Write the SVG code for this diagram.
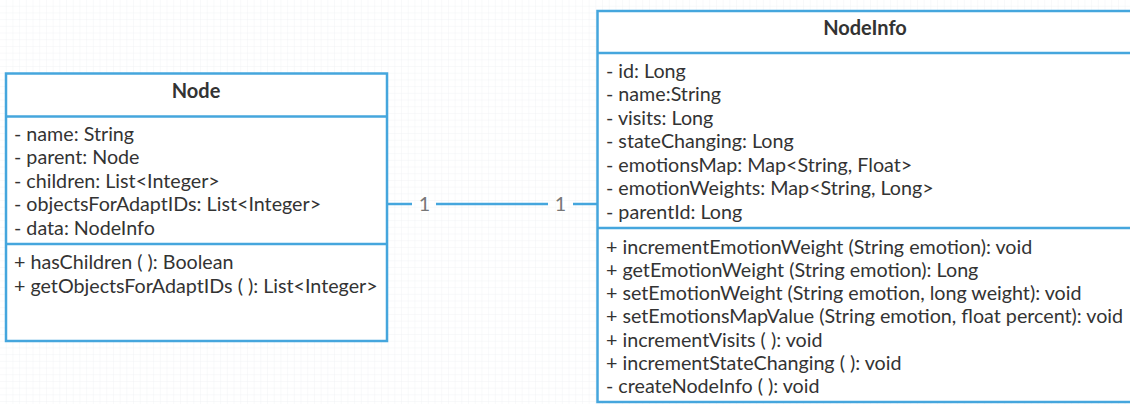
<svg xmlns="http://www.w3.org/2000/svg" width="1130" height="404" viewBox="0 0 1130 404">
  <defs>
    <pattern id="grid" width="6.7" height="6.7" patternUnits="userSpaceOnUse">
      <path d="M6.7 0 V6.7 M0 6.7 H6.7" fill="none" stroke="#eceff3" stroke-width="0.7"/>
    </pattern>
    <style>
      .box { fill: #ffffff; stroke: #45a6dd; stroke-width: 2.5; }
      .div { stroke: #45a6dd; stroke-width: 2.5; }
      .title { font-family: Lato, "Liberation Sans", sans-serif; font-size: 20px; font-weight: bold; fill: #333333; text-anchor: middle; }
      .t { font-family: Lato, "Liberation Sans", sans-serif; font-size: 19.7px; fill: #333333; }
      .conn { stroke: #45a6dd; stroke-width: 2.5; fill: none; }
      .mult { font-family: Lato, "Liberation Sans", sans-serif; font-size: 19.7px; fill: #777777; text-anchor: middle; }
    </style>
  </defs>
  <rect width="1130" height="404" fill="#ffffff"/>
  <rect width="1130" height="404" fill="url(#grid)"/>

  <g id="connectors">
    <line class="conn" x1="387" y1="204" x2="412" y2="204"/>
    <line class="conn" x1="436" y1="204" x2="548" y2="204"/>
    <line class="conn" x1="573" y1="204" x2="597" y2="204"/>
    <text class="mult" x="424.5" y="211">1</text>
    <text class="mult" x="560.5" y="211">1</text>
  </g>

  <g id="node-Node">
    <rect class="box" x="6" y="73.5" width="381" height="267.5"/>
    <line class="div" x1="6" y1="116.5" x2="387" y2="116.5"/>
    <line class="div" x1="6" y1="244" x2="387" y2="244"/>
    <text class="title" x="196" y="98">Node</text>
    <text class="t" x="14" y="140.5">- name: String</text>
    <text class="t" x="14" y="164">- parent: Node</text>
    <text class="t" x="14" y="187.5">- children: List&lt;Integer&gt;</text>
    <text class="t" x="14" y="211">- objectsForAdaptIDs: List&lt;Integer&gt;</text>
    <text class="t" x="14" y="234.5">- data: NodeInfo</text>
    <text class="t" x="14" y="269">+ hasChildren ( ): Boolean</text>
    <text class="t" x="14" y="292.5">+ getObjectsForAdaptIDs ( ): List&lt;Integer&gt;</text>
  </g>

  <g id="node-NodeInfo">
    <rect class="box" x="597.5" y="11" width="536" height="391"/>
    <line class="div" x1="597.5" y1="53" x2="1133.5" y2="53"/>
    <line class="div" x1="597.5" y1="228" x2="1133.5" y2="228"/>
    <text class="title" x="865" y="35">NodeInfo</text>
    <text class="t" x="606" y="77.5">- id: Long</text>
    <text class="t" x="606" y="101">- name:String</text>
    <text class="t" x="606" y="124.5">- visits: Long</text>
    <text class="t" x="606" y="148">- stateChanging: Long</text>
    <text class="t" x="606" y="171.5">- emotionsMap: Map&lt;String, Float&gt;</text>
    <text class="t" x="606" y="195">- emotionWeights: Map&lt;String, Long&gt;</text>
    <text class="t" x="606" y="218.5">- parentId: Long</text>
    <text class="t" x="606" y="253.5">+ incrementEmotionWeight (String emotion): void</text>
    <text class="t" x="606" y="276.8">+ getEmotionWeight (String emotion): Long</text>
    <text class="t" x="606" y="300.1">+ setEmotionWeight (String emotion, long weight): void</text>
    <text class="t" x="606" y="323.4">+ setEmotionsMapValue (String emotion, float percent): void</text>
    <text class="t" x="606" y="346.7">+ incrementVisits ( ): void</text>
    <text class="t" x="606" y="370">+ incrementStateChanging ( ): void</text>
    <text class="t" x="606" y="393.3">- createNodeInfo ( ): void</text>
  </g>
</svg>
